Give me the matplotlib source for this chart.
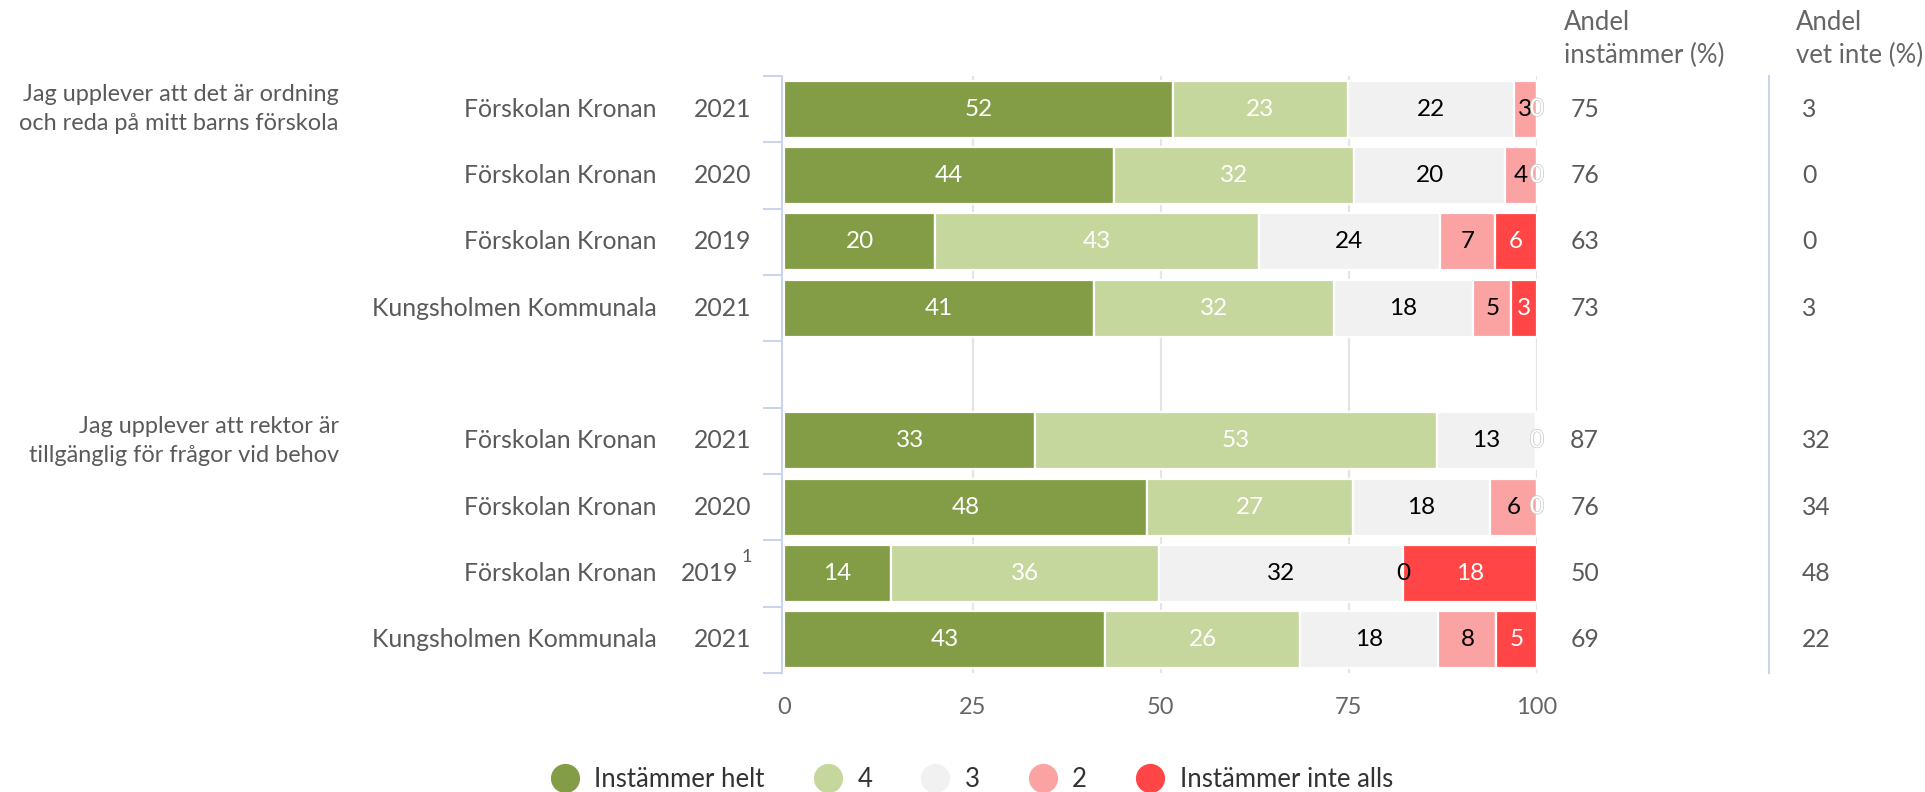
import matplotlib
matplotlib.use("Agg")
import matplotlib.pyplot as plt
import matplotlib.transforms as mtransforms
import matplotlib.patheffects as pe
from matplotlib.lines import Line2D

plt.rcParams['font.family'] = ['Lato', 'DejaVu Sans']

# ---------------- data ----------------
questions = ["Jag upplever att det är ordning\noch reda på mitt barns förskola",
             "Jag upplever att rektor är\ntillgänglig för frågor vid behov"]
units = ["Förskolan Kronan", "Förskolan Kronan", "Förskolan Kronan", "Kungsholmen Kommunala",
         "Förskolan Kronan", "Förskolan Kronan", "Förskolan Kronan", "Kungsholmen Kommunala"]
years = ["2021", "2020", "2019", "2021", "2021", "2020", "2019", "2021"]
footnotes = ["", "", "", "", "", "", "1", ""]

series_names = ["Instämmer helt", "4", "3", "2", "Instämmer inte alls"]
helt = [51.6, 43.8, 20.0, 41.1, 33.3, 48.2, 14.1, 42.6]
fyra = [23.3, 31.9, 43.0, 31.9, 53.4, 27.3, 35.6, 25.9]
tre = [22.0, 20.1, 24.1, 18.5, 13.2, 18.3, 32.5, 18.4]
tva = [3.1, 4.2, 7.3, 5.1, 0.0, 6.2, 0.0, 7.7]
inte = [0.0, 0.0, 5.6, 3.4, 0.0, 0.0, 17.8, 5.4]

andel_instammer = [75, 76, 63, 73, 87, 76, 50, 69]
andel_vet_inte = [3, 0, 0, 3, 32, 34, 48, 22]

xticks = [0, 25, 50, 75, 100]

# ---------------- style ----------------
colors = ["#829d45", "#c5d79d", "#f1f1f1", "#fba3a3", "#ff4545"]
label_colors = ["white", "white", "black", "black", "white"]
text_gray = "#5a5a5a"
axis_blue = "#c9d5ea"

W, H = 1925, 792
fig = plt.figure(figsize=(W / 100, H / 100), dpi=100)

DW, DH = 1568.0, 645.0  # reference display frame used for layout
def fx(x):
    return x / DW
def fy(y):
    return 1 - y / DH

ax_left, ax_right = fx(639), fx(1252)
ax_top, ax_bot = fy(62), fy(548)
ax = fig.add_axes([ax_left, ax_bot, ax_right - ax_left, ax_top - ax_bot])

positions = [0, 1, 2, 3, 5, 6, 7, 8]
data = [helt, fyra, tre, tva, inte]

ax.set_xlim(0, 100)
ax.set_ylim(8.5, -0.5)

for g in [25, 50, 75, 100]:
    ax.axvline(g, color="#e4e4e4", lw=1.6, zorder=0)

LBL = 17.5
lefts = [0.0] * len(positions)
for si, vals in enumerate(data):
    ax.barh(positions, vals, left=lefts, height=0.86, color=colors[si],
            edgecolor="white", linewidth=1.6, zorder=2)
    for i, (p, v) in enumerate(zip(positions, vals)):
        cx = lefts[i] + v / 2
        if v == 0:
            end_pos = lefts[i]
            if end_pos >= 99.5:
                if si != len(data) - 1:
                    continue
                t = ax.text(100, p, "0", ha="center", va="center", fontsize=LBL,
                            color="white", zorder=4, clip_on=False)
                t.set_path_effects([pe.withStroke(linewidth=1.0, foreground="#c8c8c8")])
                continue
        ax.text(cx, p, f"{v:.0f}", ha="center", va="center", fontsize=LBL,
                color=label_colors[si], zorder=4)
    lefts = [l + v for l, v in zip(lefts, vals)]

# axes styling
for s in ["top", "right", "bottom"]:
    ax.spines[s].set_visible(False)
ax.spines["left"].set_color(axis_blue)
ax.spines["left"].set_linewidth(1.5)
ax.spines["left"].set_position(("outward", 2))
ax.set_yticks([b - 0.5 for b in range(10)])
ax.set_yticklabels([])
ax.tick_params(axis="y", length=14, width=1.5, color=axis_blue)
ax.set_xticks(xticks)
ax.set_xticklabels([str(x) for x in xticks], fontsize=17, color="#666666")
ax.tick_params(axis="x", length=0, pad=17)

# category labels
TXT = 17.8
trans = mtransforms.blended_transform_factory(fig.transFigure, ax.transData)
for p, u, y, fn in zip(positions, units, years, footnotes):
    ax.text(fx(535), p, u, transform=trans, ha="right", va="center",
            fontsize=TXT, color=text_gray)
    if fn:
        ax.text(fx(601), p, y, transform=trans, ha="right", va="center",
                fontsize=TXT, color=text_gray)
        ax.text(fx(604), p - 0.25, fn, transform=trans, ha="left", va="center",
                fontsize=13, color=text_gray)
    else:
        ax.text(fx(612), p, y, transform=trans, ha="right", va="center",
                fontsize=TXT, color=text_gray)

for q, p in zip(questions, [0, 5]):
    ax.text(fx(276), p, q, transform=trans, ha="right", va="center",
            fontsize=16.9, color=text_gray, linespacing=1.45)

# right-hand columns
for p, a, v in zip(positions, andel_instammer, andel_vet_inte):
    ax.text(fx(1279), p, str(a), transform=trans, ha="left", va="center",
            fontsize=TXT, color=text_gray)
    ax.text(fx(1468), p, str(v), transform=trans, ha="left", va="center",
            fontsize=TXT, color=text_gray)

fig.text(fx(1274), fy(32), "Andel\ninstämmer (%)", ha="left", va="center",
         fontsize=18.5, color="#666666", linespacing=1.4)
fig.text(fx(1463), fy(32), "Andel\nvet inte (%)", ha="left", va="center",
         fontsize=18.5, color="#666666", linespacing=1.4)
fig.add_artist(Line2D([fx(1441), fx(1441)], [ax_bot, ax_top], transform=fig.transFigure,
                      color=axis_blue, lw=1.5))

# legend
handles = [Line2D([0], [0], marker="o", linestyle="none", markersize=20,
                  markerfacecolor=c, markeredgecolor=c) for c in colors]
leg = fig.legend(handles, series_names, loc="center", bbox_to_anchor=(fx(791), fy(635)),
                 ncol=5, frameon=False, fontsize=18.5, handletextpad=0.55,
                 columnspacing=1.85, handlelength=1.2)
for t in leg.get_texts():
    t.set_color("#333333")

fig.savefig("out.png", dpi=100)
